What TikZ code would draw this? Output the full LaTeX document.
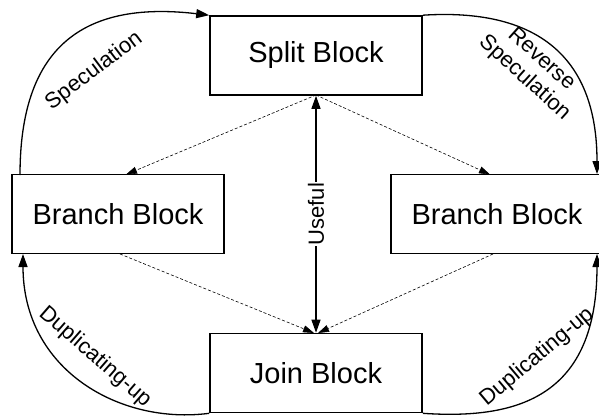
\documentclass[tikz,border=0pt]{standalone}
\usepackage{fontspec}
\setmainfont{Liberation Sans}
\usetikzlibrary{arrows.meta}
\begin{document}
\begin{tikzpicture}[x=1pt,y=-1pt,
  blockbox/.style={draw,line width=1.6pt,fill=white,minimum width=212pt,minimum height=79pt,inner sep=0pt,font=\fontsize{29}{34}\selectfont},
  flow/.style={line width=1.3pt,-{Triangle[length=13pt,width=9pt]}},
  hint/.style={line width=0.6pt,dash pattern=on 3pt off 2pt,-{Triangle[length=11pt,width=7pt]}},
  lbl/.style={font=\fontsize{22}{25}\selectfont,inner sep=1pt,align=center}]
\useasboundingbox (0,0) rectangle (599,415);
\begin{scope}
\clip (0,0) rectangle (599,415);
\node[blockbox] (split) at (316,55.5) {Split Block};
\node[blockbox] (bl) at (118,214) {Branch Block};
\node[blockbox] (br) at (497,214) {Branch Block};
\node[blockbox] (join) at (316,373) {Join Block};

\coordinate (blt) at (20,175);
\coordinate (blb) at (23,254);
\coordinate (brt) at (597,174);
\coordinate (brb) at (597,254);

% curved arrows
\draw[flow] (blt) .. controls (20,50) and (80,0) .. (split.north west);
\draw[flow] (split.north east) .. controls (535,8) and (597,55) .. (brt);
\draw[flow] (join.south west) .. controls (120,425) and (23,370) .. (blb);
\draw[flow] (join.south east) .. controls (520,420) and (597,395) .. (brb);

% dashed
\coordinate (sb) at (316,95);
\coordinate (jt) at (316,333);
\coordinate (blnt) at (126,174.5);
\coordinate (blnb) at (120,254);
\coordinate (brnt) at (490,174.5);
\coordinate (brnb) at (493,254);
\coordinate (jtl) at (314,333);
\coordinate (jtr) at (318,333);
\draw[hint] (sb) -- (blnt);
\draw[hint] (sb) -- (brnt);
\draw[hint] (blnb) -- (jtl);
\draw[hint] (brnb) -- (jtr);

% useful
\draw[line width=1.3pt,{Triangle[length=13pt,width=9pt]}-{Triangle[length=13pt,width=9pt]}] (join.north) -- (split.south)
  node[midway,lbl,fill=white,rotate=90] (useful) {Useful};

% labels
\node[lbl,rotate=37] (spec) at (94,71) {Speculation};
\node[lbl,rotate=-42] (rspec) at (533,69) {Reverse\\Speculation};
\node[lbl,rotate=-41] (dupl) at (95,357) {Duplicating-up};
\node[lbl,rotate=40] (dupr) at (537,357) {Duplicating-up};
\end{scope}
\end{tikzpicture}
\end{document}
